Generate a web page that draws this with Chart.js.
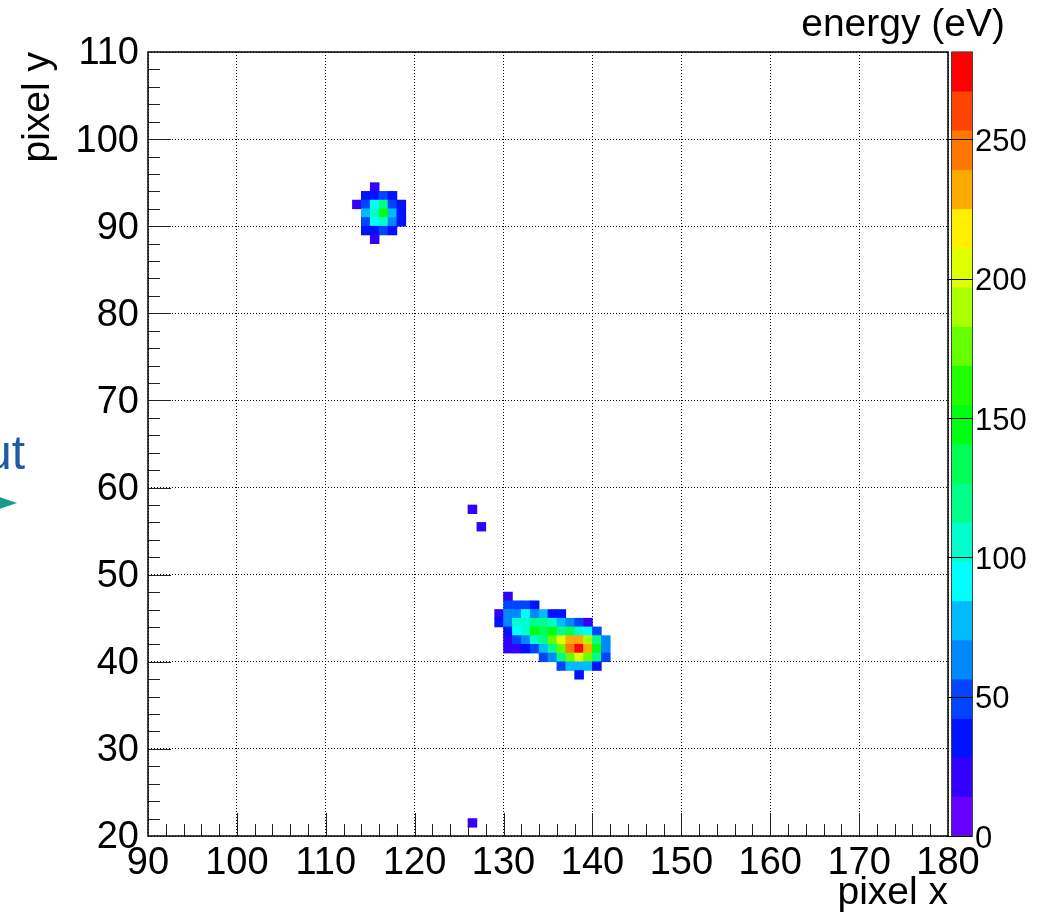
<!DOCTYPE html>
<html lang="en">
<head>
<meta charset="UTF-8">
<title>Pixel energy map</title>
<script src="https://cdn.jsdelivr.net/npm/chart.js"></script>
<style>
  * { margin: 0; padding: 0; box-sizing: border-box; }
  body {
    background: #fff;
    width: 1059px;
    height: 917px;
    overflow: hidden;
    position: relative;
    font-family: 'Liberation Sans', Arial, sans-serif;
  }
  #map { position: absolute; left: 0; top: 0; }
  /* bits of the slide that sit behind the plot */
  .slide-text {
    position: absolute;
    left: -15px;
    top: 429px;
    font-size: 48px;
    line-height: 48px;
    color: #1e5aa6;
  }
  .slide-arrow {
    position: absolute;
    left: -10px;
    top: 494px;
    width: 0;
    height: 0;
    border-top: 9px solid transparent;
    border-bottom: 9px solid transparent;
    border-left: 27px solid #1b9a8c;
  }
</style>
</head>
<body>
<canvas id="map" width="1059" height="917"></canvas>
<div class="slide-text">ut</div>
<div class="slide-arrow"></div>

<script>
// hit pixels: column, row and deposited energy (eV)
const pixX = [
  115,
  114, 115, 116, 117,
  113, 114, 115, 116, 117, 118,
  114, 115, 116, 117, 118,
  114, 115, 116, 117, 118,
  114, 115, 116, 117,
  115,
  126, 127,
  130,
  130, 131, 132, 133,
  129, 130, 131, 132, 133, 134, 135, 136,
  129, 130, 131, 132, 133, 134, 135, 136, 137, 138, 139,
  130, 131, 132, 133, 134, 135, 136, 137, 138, 139, 140,
  130, 131, 132, 133, 134, 135, 136, 137, 138, 139, 140, 141,
  130, 131, 132, 133, 134, 135, 136, 137, 138, 139, 140, 141,
  134, 135, 136, 137, 138, 139, 140, 141,
  136, 137, 138, 139, 140,
  138,
  126
];
const pixY = [
  94,
  93, 93, 93, 93,
  92, 92, 92, 92, 92, 92,
  91, 91, 91, 91, 91,
  90, 90, 90, 90, 90,
  89, 89, 89, 89,
  88,
  57, 55,
  47,
  46, 46, 46, 46,
  45, 45, 45, 45, 45, 45, 45, 45,
  44, 44, 44, 44, 44, 44, 44, 44, 44, 44, 44,
  43, 43, 43, 43, 43, 43, 43, 43, 43, 43, 43,
  42, 42, 42, 42, 42, 42, 42, 42, 42, 42, 42, 42,
  41, 41, 41, 41, 41, 41, 41, 41, 41, 41, 41, 41,
  40, 40, 40, 40, 40, 40, 40, 40,
  39, 39, 39, 39, 39,
  38,
  21
];
const pixE = [
  22,
  34, 38, 51, 31,
  24, 47, 90, 118, 52, 33,
  79, 106, 149, 76, 36,
  50, 93, 104, 64, 35,
  32, 39, 46, 30,
  20,
  23, 21,
  25,
  48, 53, 45, 36,
  19, 61, 66, 89, 60, 74, 37, 33,
  30, 67, 108, 102, 121, 115, 100, 81, 58, 44, 26,
  40, 95, 110, 151, 131, 144, 123, 137, 103, 86, 55,
  27, 49, 62, 109, 117, 178, 205, 229, 236, 191, 124, 65,
  18, 24, 34, 51, 80, 120, 172, 247, 281.4, 232, 146, 68,
  46, 63, 114, 175, 203, 170, 119, 53,
  43, 78, 72, 83, 38,
  31,
  22
];

const xTicksFrom = 90, xTicksTo = 180;
const yTicksFrom = 20, yTicksTo = 110;
const zTitle = 'energy (eV)';

// ROOT style rainbow palette, 20 contours
const palette = ['#6600ff', '#3300ff', '#0011ff', '#0044ff', '#0088ff', '#00bbff', '#00ffff',
  '#00ffcc', '#00ff88', '#00ff55', '#00ff11', '#22ff00', '#66ff00', '#aaff00', '#ddff00',
  '#ffee00', '#ffaa00', '#ff7700', '#ff4400', '#ff0000'];
const zMax = Math.max(...pixE);
const levelWidth = zMax / palette.length;

function colourFor(e) {
  return palette[Math.min(palette.length - 1, Math.floor(e / levelWidth))];
}

// each pixel is a floating bar one unit wide and one unit tall
const cells = pixX.map((x, i) => ({ x: x + 0.5, y: [pixY[i], pixY[i] + 1], e: pixE[i] }));

const fontFamily = "'Liberation Sans', Arial, Helvetica, sans-serif";
Chart.defaults.font.family = fontFamily;
Chart.defaults.color = '#000';

function line(ctx, x1, y1, x2, y2) {
  ctx.beginPath();
  ctx.moveTo(x1, y1);
  ctx.lineTo(x2, y2);
  ctx.stroke();
}

// frame, inside ticks and the colour palette on the right
const rootStyle = {
  id: 'rootStyle',
  afterDraw(chart) {
    const { ctx, chartArea: a, scales: { x, y, z } } = chart;
    ctx.save();

    const barLeft = a.right + 4, barWidth = 20;
    palette.forEach((c, k) => {
      const yTop = z.getPixelForValue((k + 1) * levelWidth);
      const yBot = z.getPixelForValue(k * levelWidth);
      ctx.fillStyle = c;
      ctx.fillRect(barLeft, yTop - 0.3, barWidth, yBot - yTop + 0.6);
    });
    ctx.strokeStyle = '#444';
    ctx.lineWidth = 1;
    ctx.strokeRect(barLeft - 0.5, a.top, barWidth + 1, a.bottom - a.top);

    ctx.strokeStyle = '#000';
    z.ticks.forEach(t => {
      const py = Math.round(z.getPixelForValue(t.value)) + 0.5;
      line(ctx, a.right - 1, py, barLeft + barWidth + 0.5, py);
    });

    // palette title, right aligned above the palette labels
    ctx.fillStyle = '#000';
    ctx.font = '39px ' + fontFamily;
    ctx.textAlign = 'right';
    ctx.textBaseline = 'middle';
    ctx.fillText(zTitle, a.right + 57, a.top / 2 - 0.5);

    ctx.strokeStyle = '#222';
    for (let v = x.min + 2; v < x.max; v += 2) {
      const px = Math.round(x.getPixelForValue(v)) + 0.5;
      line(ctx, px, a.bottom, px, a.bottom - (v % 10 === 0 ? 23 : 12));
    }
    for (let v = y.min + 2; v < y.max; v += 2) {
      const py = Math.round(y.getPixelForValue(v)) + 0.5;
      line(ctx, a.left, py, a.left + (v % 10 === 0 ? 23 : 12), py);
    }

    ctx.strokeStyle = '#000';
    ctx.lineWidth = 1.5;
    ctx.strokeRect(a.left, a.top, a.right - a.left, a.bottom - a.top);
    ctx.restore();
  }
};

new Chart(document.getElementById('map'), {
  type: 'bar',
  data: {
    datasets: [{
      data: cells,
      xAxisID: 'x',
      yAxisID: 'y',
      backgroundColor: c => (c.raw ? colourFor(c.raw.e) : '#000'),
      borderWidth: 0,
      borderSkipped: false,
      barPercentage: 1,
      categoryPercentage: 1
    }]
  },
  options: {
    responsive: false,
    devicePixelRatio: 1,
    animation: false,
    events: [],
    layout: { padding: { left: 0, top: 52, right: 0, bottom: 0 } },
    plugins: {
      legend: { display: false },
      tooltip: { enabled: false }
    },
    scales: {
      x: {
        type: 'linear',
        min: xTicksFrom,
        max: xTicksTo,
        offset: false,
        afterFit: s => { s.height = 81; },
        grid: { offset: false, drawTicks: false, color: '#000', lineWidth: 1 },
        border: { display: false, dash: [1, 2] },
        ticks: { stepSize: 10, autoSkip: false, maxRotation: 0, padding: 5, font: { size: 38 } },
        title: { display: true, text: 'pixel x', align: 'end', font: { size: 39 }, padding: { top: 0, bottom: 0 } }
      },
      y: {
        type: 'linear',
        position: 'left',
        min: yTicksFrom,
        max: yTicksTo,
        afterFit: s => { s.width = 148; },
        grid: { drawTicks: false, color: '#000', lineWidth: 1 },
        border: { display: false, dash: [1, 2] },
        ticks: { stepSize: 10, autoSkip: false, padding: 9, labelOffset: 2, font: { size: 38 } },
        title: { display: true, text: 'pixel y', align: 'end', font: { size: 39 }, padding: { top: 15, bottom: 0 } }
      },
      z: {
        type: 'linear',
        position: 'right',
        min: 0,
        max: zMax,
        afterFit: s => { s.width = 111; },
        grid: { display: false, drawTicks: false },
        border: { display: false },
        ticks: { stepSize: 50, includeBounds: false, padding: 27, labelOffset: 3, font: { size: 31 } }
      }
    }
  },
  plugins: [rootStyle]
});
</script>
</body>
</html>
